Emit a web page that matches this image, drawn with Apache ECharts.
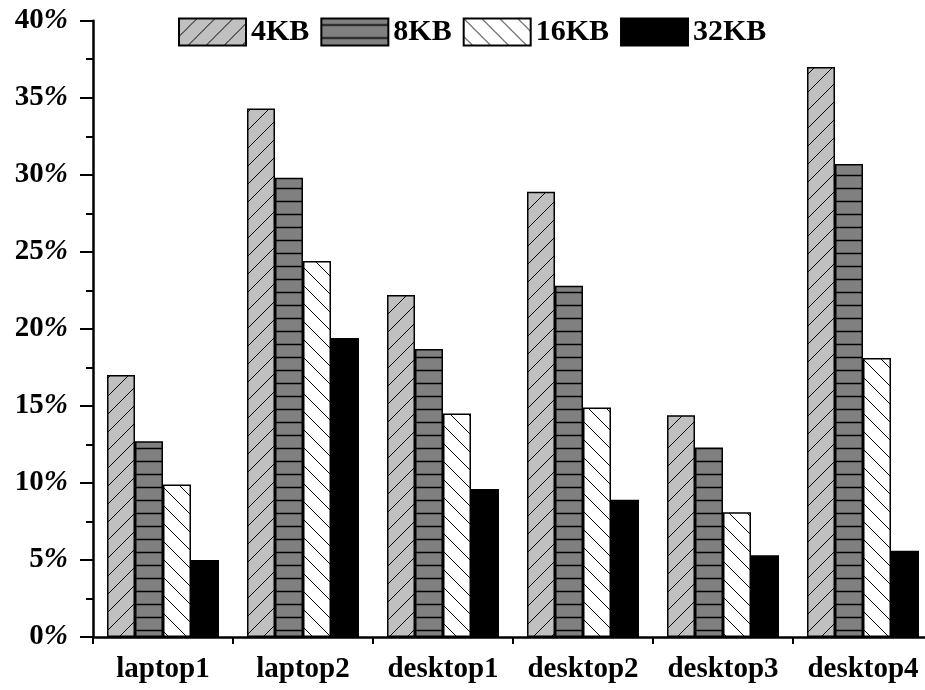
<!DOCTYPE html>
<html>
<head>
<meta charset="utf-8">
<script src="https://cdn.jsdelivr.net/npm/echarts@6/dist/echarts.min.js"></script>
<style>
  html, body { margin: 0; padding: 0; background: #fff; }
  #chart { width: 925px; height: 690px; }
</style>
</head>
<body>
<div id="chart"></div>
<script>
// Categories and series values (percent)
const categories = ['laptop1', 'laptop2', 'desktop1', 'desktop2', 'desktop3', 'desktop4'];
const seriesNames = ['4KB', '8KB', '16KB', '32KB'];
const kb4  = [17.0, 34.3, 22.2, 28.9, 14.4, 37.0];
const kb8  = [12.7, 29.8, 18.7, 22.8, 12.3, 30.7];
const kb16 = [9.9, 24.4, 14.5, 14.9, 8.1, 18.1];
const kb32 = [5.0, 19.4, 9.6, 8.9, 5.3, 5.6];
const yMin = 0, yMax = 40, yStep = 5;

const FONT = "'Liberation Serif', 'Times New Roman', serif";

// Build a repeating hatch tile on a small canvas
function hatchTile(bg, kind) {
  const c = document.createElement('canvas');
  const w = kind === 'h' ? 8 : 18;
  const h = kind === 'h' ? 13 : 18;
  c.width = w; c.height = h;
  const ctx = c.getContext('2d');
  ctx.fillStyle = bg;
  ctx.fillRect(0, 0, w, h);
  ctx.strokeStyle = '#000';
  ctx.lineWidth = kind === 'h' ? 1.5 : 1;
  ctx.beginPath();
  if (kind === 'h') {
    ctx.moveTo(0, 6.5); ctx.lineTo(w, 6.5);
  } else {
    for (const k of [-w, 0, w]) {
      if (kind === '/') { ctx.moveTo(k, h); ctx.lineTo(k + w, 0); }
      else { ctx.moveTo(k, 0); ctx.lineTo(k + w, h); }
    }
  }
  ctx.stroke();
  return { image: c, repeat: 'repeat' };
}

const fills = [
  hatchTile('#c0c0c0', '/'),
  hatchTile('#808080', 'h'),
  hatchTile('#ffffff', '\\'),
  '#000000'
];
const values = [kb4, kb8, kb16, kb32];

const chart = echarts.init(document.getElementById('chart'), null, { renderer: 'canvas' });

chart.setOption({
  animation: false,
  backgroundColor: '#ffffff',
  // the plot runs a little past the right edge of the canvas
  grid: { left: 93, width: 840, top: 20.7, bottom: 53, containLabel: false, outerBoundsMode: 'none' },
  legend: {
    data: seriesNames,
    left: 178, top: 17,
    padding: 0,
    icon: 'rect',
    itemWidth: 67, itemHeight: 27, itemGap: 11,
    textStyle: { fontFamily: FONT, fontWeight: 'bold', fontSize: 30, color: '#000' }
  },
  xAxis: [
    {
      type: 'category',
      data: categories,
      boundaryGap: true,
      axisLine: { lineStyle: { color: '#000', width: 2.5 } },
      axisTick: { alignWithLabel: true, interval: 0, length: 13, lineStyle: { color: '#000', width: 2 } },
      axisLabel: { interval: 0, fontFamily: FONT, fontWeight: 'bold', fontSize: 29, color: '#000', margin: 18 }
    },
    {
      // short ticks on the category boundaries
      type: 'category',
      data: categories,
      position: 'bottom',
      boundaryGap: true,
      axisLine: { show: false },
      axisTick: { show: true, interval: 0, length: 7, lineStyle: { color: '#000', width: 2 } },
      axisLabel: { show: false }
    }
  ],
  yAxis: {
    type: 'value',
    min: yMin, max: yMax, interval: yStep,
    axisLine: { show: true, lineStyle: { color: '#000', width: 2.5 } },
    axisTick: { show: true, length: 13, lineStyle: { color: '#000', width: 2 } },
    minorTick: { show: true, splitNumber: 2, length: 7, lineStyle: { color: '#000', width: 2 } },
    splitLine: { show: false },
    axisLabel: {
      margin: 25,
      formatter: v => '{d|' + v + '}{p|%}',
      rich: {
        d: { fontFamily: FONT, fontWeight: 'bold', fontSize: 29, color: '#000' },
        p: { fontFamily: FONT, fontWeight: 'bold', fontStyle: 'italic', fontSize: 29, color: '#000' }
      }
    }
  },
  series: seriesNames.map((name, i) => ({
    name,
    type: 'bar',
    xAxisIndex: 0,
    data: values[i],
    barGap: '0%',
    barCategoryGap: '20%',
    itemStyle: { color: fills[i], borderColor: '#000', borderWidth: 1.5 }
  }))
});
</script>
</body>
</html>
